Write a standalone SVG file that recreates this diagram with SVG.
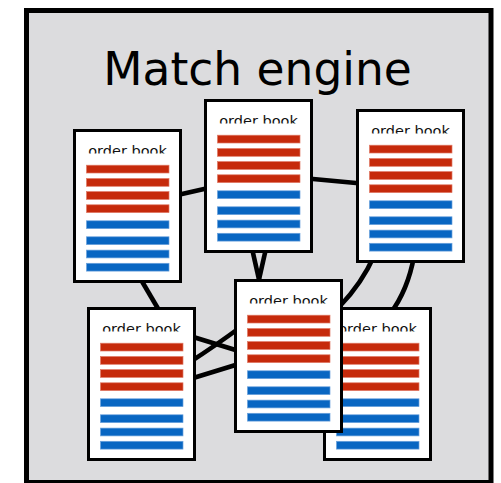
<svg xmlns="http://www.w3.org/2000/svg" width="501" height="483" viewBox="0 0 501 483">
  <style>
    .frame { fill: #dcdcde; stroke: #000; stroke-width: 5; }
    .title { font-family: "DejaVu Sans", "Liberation Sans", sans-serif; font-size: 45.5px; fill: #000; }
    .box { fill: #fff; stroke: #000; stroke-width: 3; }
    .label { font-family: "DejaVu Sans", "Liberation Sans", sans-serif; font-size: 14.5px; fill: #111; }
    .ask { fill: #c62a0b; stroke: #e07a66; stroke-width: 0.7; }
    .bid { fill: #0866c2; stroke: #6aa2dc; stroke-width: 0.7; }
    .link { fill: none; stroke: #000; stroke-width: 4.6; stroke-linecap: butt; }
  </style>
  <defs>
    <!-- the label is cut just above its baseline -->
    <clipPath id="labelClip" clipPathUnits="userSpaceOnUse">
      <rect x="0" y="0" width="109" height="24.5"/>
    </clipPath>
    <!-- one order book: bordered page with four ask and four bid levels -->
    <g id="book">
      <rect class="box" x="1.5" y="1.5" width="106" height="151"/>
      <text class="label" x="54.5" y="27" text-anchor="middle" clip-path="url(#labelClip)">order book</text>
      <rect class="ask" x="13.5" y="36.2" width="82.5" height="7.8"/>
      <rect class="ask" x="13.5" y="49.5" width="82.5" height="7.8"/>
      <rect class="ask" x="13.5" y="62.6" width="82.5" height="7.8"/>
      <rect class="ask" x="13.5" y="75.8" width="82.5" height="7.8"/>
      <rect class="bid" x="13.5" y="91.8" width="82.5" height="7.8"/>
      <rect class="bid" x="13.5" y="107.8" width="82.5" height="7.8"/>
      <rect class="bid" x="13.5" y="121.1" width="82.5" height="7.8"/>
      <rect class="bid" x="13.5" y="134.3" width="82.5" height="7.8"/>
    </g>
  </defs>

  <rect class="frame" x="26.5" y="10.5" width="464.5" height="472"/>
  <text class="title" x="257.5" y="85" text-anchor="middle">Match engine</text>

  <g id="connectors">
    <path class="link" d="M172 196.3 L214 186.7"/>
    <path class="link" d="M305 178.3 L364 183.8"/>
    <path class="link" d="M251 244 L260 284"/>
    <path class="link" d="M267 244 L258 284"/>
    <path class="link" d="M140 278 L160 312"/>
    <path class="link" d="M190 336 L242 352"/>
    <path class="link" d="M190 362 Q215 346 242 326"/>
    <path class="link" d="M190 379 L242 363"/>
    <path class="link" d="M374 256 Q362 283 340 306"/>
    <path class="link" d="M414 256 Q408 290 390 314"/>
  </g>

  <g id="book-a"><use href="#book" x="73" y="129"/></g>
  <g id="book-b"><use href="#book" x="204" y="99"/></g>
  <g id="book-c"><use href="#book" x="356" y="109"/></g>
  <g id="book-d"><use href="#book" x="87" y="307"/></g>
  <g id="book-f"><use href="#book" x="323" y="307"/></g>
  <g id="book-e"><use href="#book" x="234" y="279"/></g>
</svg>
